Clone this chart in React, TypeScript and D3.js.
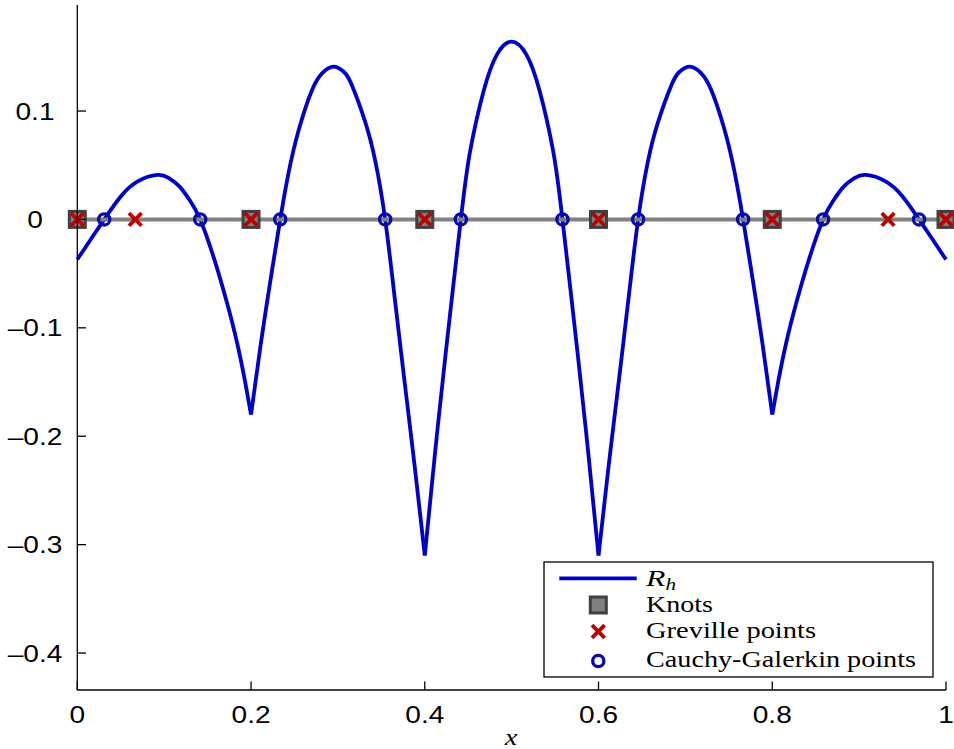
import React from 'react';
import * as d3 from 'd3';

// ---- data ----
const knots = [0, 0.2, 0.4, 0.6, 0.8, 1];
const greville = [0, 0.0667, 0.2, 0.4, 0.6, 0.8, 0.9333, 1];
const cauchyGalerkin = [0.031, 0.1415, 0.2336, 0.3544, 0.4415, 0.5585, 0.6456, 0.7664, 0.8585, 0.969];

const xTicks = [0, 0.2, 0.4, 0.6, 0.8, 1];
const xTickLabels = ['0', '0.2', '0.4', '0.6', '0.8', '1'];
const yTicks = [-0.4, -0.3, -0.2, -0.1, 0, 0.1];
const yTickLabels = ['\u20130.4', '\u20130.3', '\u20130.2', '\u20130.1', '0', '0.1'];

// residual R_h, one array per knot span (cusps at the knots)
const rhSpan1: [number, number][] = [
  [0, -0.037], [0.015, -0.019], [0.031, 0.0], [0.05, 0.0212], [0.07, 0.0353], [0.092, 0.041],
  [0.105, 0.0383], [0.118, 0.030], [0.13, 0.017], [0.1415, 0.0], [0.157, -0.035], [0.172, -0.076],
  [0.184, -0.114], [0.193, -0.149], [0.2, -0.18],
];
const rhSpan2: [number, number][] = [
  [0.2, -0.18], [0.211, -0.116], [0.222, -0.058], [0.2336, 0.0], [0.2432, 0.043], [0.2547, 0.082],
  [0.27, 0.119], [0.282, 0.135], [0.295, 0.141], [0.307, 0.136], [0.316, 0.124], [0.3314, 0.09],
  [0.343, 0.054], [0.3544, 0.0], [0.3659, -0.076], [0.3774, -0.154], [0.389, -0.232], [0.4, -0.31],
];
const rhSpan3: [number, number][] = [
  [0.4, -0.31], [0.412, -0.214], [0.424, -0.124], [0.4415, 0.0], [0.4522, 0.063], [0.4676, 0.118],
  [0.483, 0.152], [0.5, 0.164], [0.517, 0.152], [0.5324, 0.118], [0.5478, 0.063], [0.5585, 0.0],
  [0.576, -0.124], [0.588, -0.214], [0.6, -0.31],
];
const rhSpan4: [number, number][] = [
  [0.6, -0.31], [0.611, -0.232], [0.6226, -0.154], [0.6341, -0.076], [0.6456, 0.0], [0.657, 0.054],
  [0.6686, 0.09], [0.684, 0.124], [0.693, 0.136], [0.705, 0.141], [0.718, 0.135], [0.73, 0.119],
  [0.7453, 0.082], [0.7568, 0.043], [0.7664, 0.0], [0.778, -0.058], [0.789, -0.116], [0.8, -0.18],
];
const rhSpan5: [number, number][] = [
  [0.8, -0.18], [0.807, -0.149], [0.816, -0.114], [0.828, -0.076], [0.843, -0.035], [0.8585, 0.0],
  [0.87, 0.017], [0.882, 0.030], [0.895, 0.0383], [0.908, 0.041], [0.93, 0.0353], [0.95, 0.0212],
  [0.969, 0.0], [0.985, -0.019], [1, -0.037],
];
const rhSpans = [rhSpan1, rhSpan2, rhSpan3, rhSpan4, rhSpan5];

const legendLabels = ['Knots', 'Greville points', 'Cauchy-Galerkin points'];

// ---- styles ----
const W = 954;
const H = 749;
const CURVE = '#0000cc';
const CIRCLE = '#0a0aa8';
const CROSS = '#bb0000';
const KNOT_FILL = '#808080';
const KNOT_STROKE = '#404040';
const SANS = '"Liberation Sans", Arial, Helvetica, sans-serif';
const SERIF = '"Liberation Serif", "Times New Roman", serif';

const x = d3.scaleLinear().domain([0, 1]).range([77.3, 946]);
const y = d3.scaleLinear().domain([-0.4341, 0.1978]).range([690, 5]);

const line = d3
  .line<[number, number]>()
  .x((d) => x(d[0]))
  .y((d) => y(d[1]))
  .curve(d3.curveNatural);

function Square({ cx, cy }: { cx: number; cy: number }) {
  const s = 16;
  return (
    <rect x={cx - s / 2} y={cy - s / 2} width={s} height={s} fill={KNOT_FILL} stroke={KNOT_STROKE} strokeWidth={3} />
  );
}

function Cross({ cx, cy }: { cx: number; cy: number }) {
  const a = 6.3;
  return (
    <g stroke={CROSS} strokeWidth={3.8}>
      <line x1={cx - a} y1={cy - a} x2={cx + a} y2={cy + a} />
      <line x1={cx - a} y1={cy + a} x2={cx + a} y2={cy - a} />
    </g>
  );
}

function Circle({ cx, cy }: { cx: number; cy: number }) {
  return <circle cx={cx} cy={cy} r={5.6} fill="none" stroke={CIRCLE} strokeWidth={3.3} />;
}

export default function App() {
  const y0 = y(0);
  const legendX = 544;
  const legendY = 562;
  const legendW = 389;
  const legendH = 115;
  const markerX = 598.3;
  const textX = 646;
  const rowY = [605, 631.5, 661];
  const rowBase = [612.3, 638.3, 666.7];
  const textLens = [67, 170, 270];

  return (
    <svg
      width={W}
      height={H}
      viewBox={`0 0 ${W} ${H}`}
      style={{ position: 'absolute', left: 0, top: 0, background: '#fff' }}
    >
      <rect x={0} y={0} width={W} height={H} fill="#fff" />

      {/* R_h curve */}
      {rhSpans.map((span, i) => (
        <path key={i} d={line(span) || ''} fill="none" stroke={CURVE} strokeWidth={3.8} strokeLinejoin="round" />
      ))}

      {/* knot line */}
      <line x1={x(knots[0])} x2={x(knots[knots.length - 1])} y1={y0} y2={y0} stroke={KNOT_FILL} strokeWidth={4} />
      {knots.map((k, i) => (
        <Square key={i} cx={x(k)} cy={y0} />
      ))}
      {greville.map((g, i) => (
        <Cross key={i} cx={x(g)} cy={y0} />
      ))}
      {cauchyGalerkin.map((c, i) => (
        <Circle key={i} cx={x(c)} cy={y0} />
      ))}

      {/* axes */}
      <g stroke="#000" strokeWidth={1.3} fill="none">
        <line x1={x(0)} x2={x(0)} y1={5} y2={690} />
        <line x1={x(0)} x2={x(1)} y1={690} y2={690} />
        {xTicks.map((t, i) => (
          <line key={'xt' + i} x1={x(t)} x2={x(t)} y1={690} y2={681.5} />
        ))}
        {yTicks.map((t, i) => (
          <line key={'yt' + i} x1={x(0)} x2={x(0) + 8.7} y1={y(t)} y2={y(t)} />
        ))}
      </g>
      <g fontFamily={SANS} fontSize={24} fill="#000" textAnchor="middle">
        {xTicks.map((t, i) => (
          <text key={'xl' + i} transform={`translate(${x(t)},722.5) scale(1.17,1)`}>
            {xTickLabels[i]}
          </text>
        ))}
        {yTicks.map((t, i) => (
          <text key={'yl' + i} transform={`translate(35,${y(t) + 8.6}) scale(1.17,1)`}>
            {yTickLabels[i]}
          </text>
        ))}
      </g>
      <text
        transform={`translate(511,745) scale(1.18,1)`}
        fontFamily={SERIF}
        fontStyle="italic"
        fontSize={24}
        textAnchor="middle"
      >
        x
      </text>

      {/* legend */}
      <rect x={legendX} y={legendY} width={legendW} height={legendH} fill="#fff" stroke="#000" strokeWidth={1.3} />
      <line x1={559.3} x2={636.7} y1={578.3} y2={578.3} stroke={CURVE} strokeWidth={3.8} />
      <text x={textX} y={586} fontFamily={SERIF} fontStyle="italic" fontSize={24} textLength={30} lengthAdjust="spacingAndGlyphs">
        R<tspan fontSize={16} dy={4}>h</tspan>
      </text>
      <Square cx={markerX} cy={rowY[0]} />
      <Cross cx={markerX} cy={rowY[1]} />
      <Circle cx={markerX} cy={rowY[2]} />
      {legendLabels.map((l, i) => (
        <text
          key={l}
          x={textX}
          y={rowBase[i]}
          fontFamily={SERIF}
          fontSize={23.5}
          textLength={textLens[i]}
          lengthAdjust="spacingAndGlyphs"
        >
          {l}
        </text>
      ))}
    </svg>
  );
}
